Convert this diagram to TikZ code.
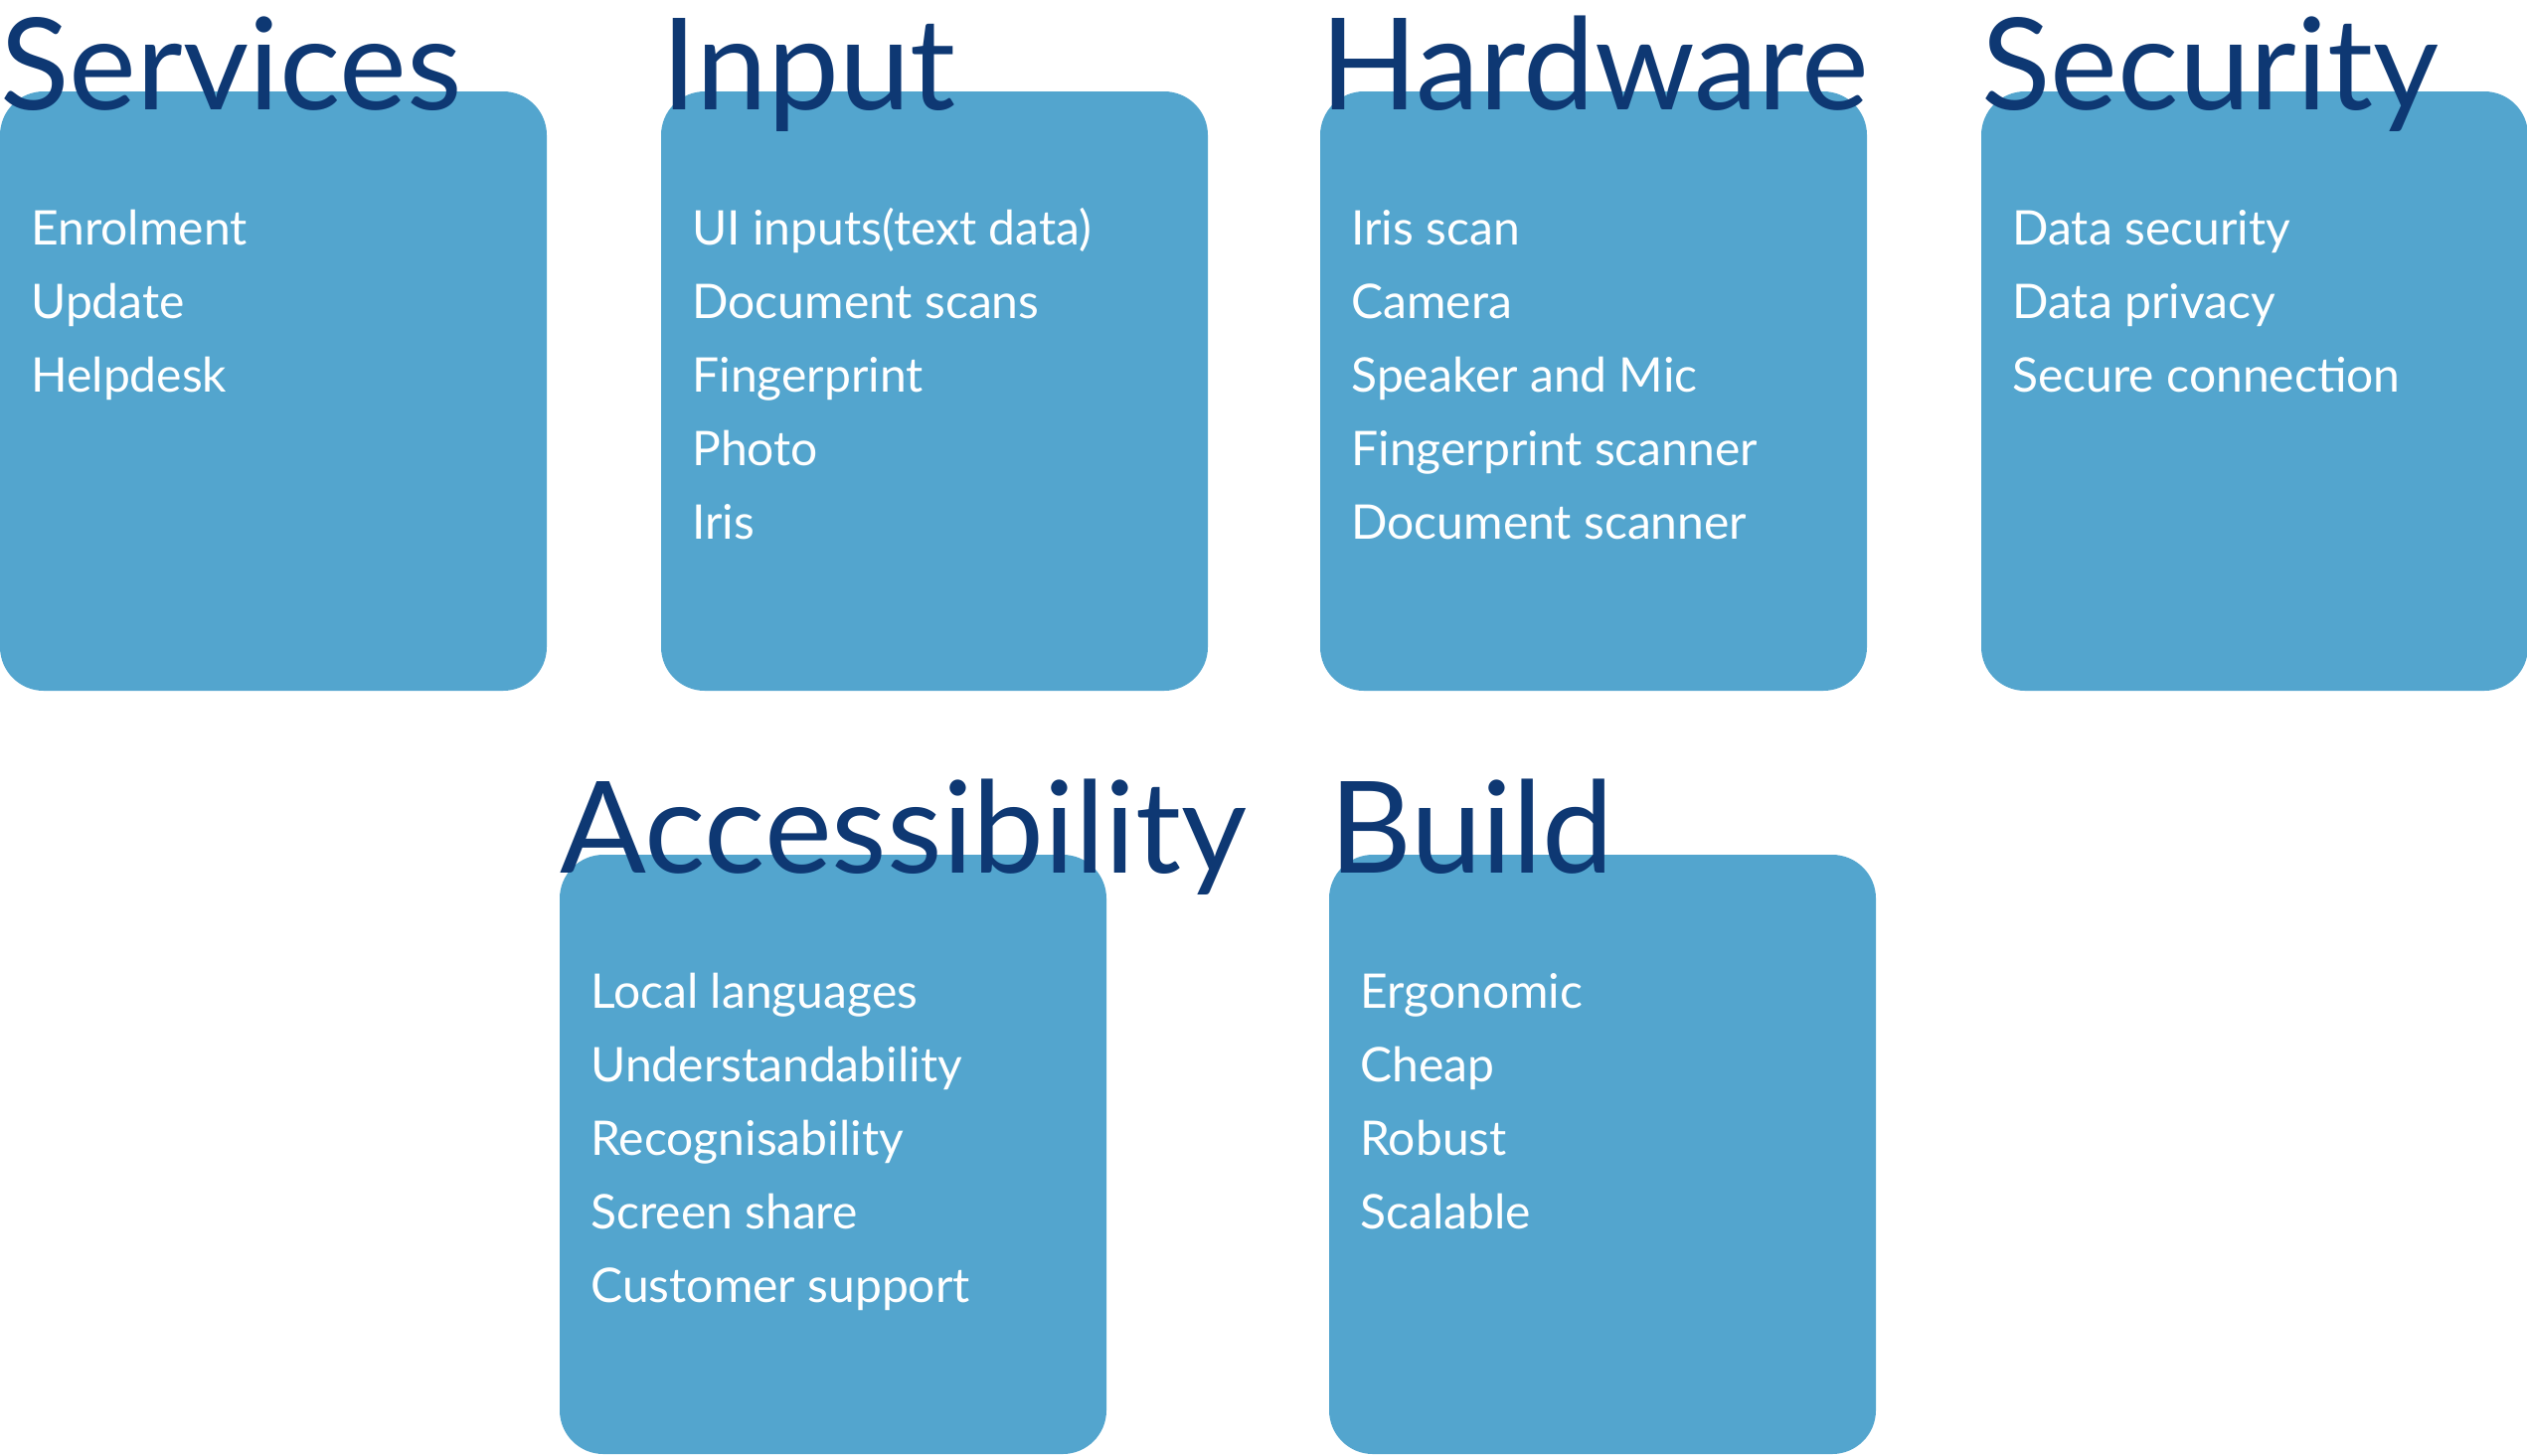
\documentclass[tikz,border=0pt]{standalone}
\usepackage{fontspec}
\setmainfont{Lato}
\definecolor{boxblue}{RGB}{83,165,206}
\definecolor{titleblue}{RGB}{14,56,115}
\begin{document}
\begin{tikzpicture}[x=0.5pt,y=-0.5pt,
  card/.style={fill=boxblue, draw=none, rounded corners=22pt, minimum width=275pt,
    minimum height=301.5pt, inner sep=0pt, outer sep=0pt, anchor=north west},
  cardtitle/.style={anchor=base west, text=titleblue, font=\fontsize{64.2}{64}\selectfont, inner sep=0pt},
  item/.style={anchor=base west, text=white, font=\fontsize{24}{24}\selectfont, inner sep=0pt}]
\useasboundingbox (0,0) rectangle (2542,1464);
\foreach \nm/\bx/\by/\ttl/\lst in {
  serv/0/92/Services/{Enrolment,Update,Helpdesk},
  inp/665/92/Input/{UI inputs(text data),Document scans,Fingerprint,Photo,Iris},
  hw/1328/92/Hardware/{Iris scan,Camera,Speaker and Mic,Fingerprint scanner,Document scanner},
  sec/1993/92/Security/{Data security,Data privacy,Secure connection},
  acc/563/860/Accessibility/{Local languages,Understandability,Recognisability,Screen share,Customer support},
  bld/1337/860/Build/{Ergonomic,Cheap,Robust,Scalable}}
{
  \node[card] (\nm) at (\bx,\by) {};
  \node[cardtitle] (\nm-title) at (\bx,{\by+18}) {\ttl};
  \foreach \t [count=\i] in \lst {
    \node[item] (\nm-\i) at ({\bx+31},{\by+80+74*\i}) {\t};
  }
}
\end{tikzpicture}
\end{document}
